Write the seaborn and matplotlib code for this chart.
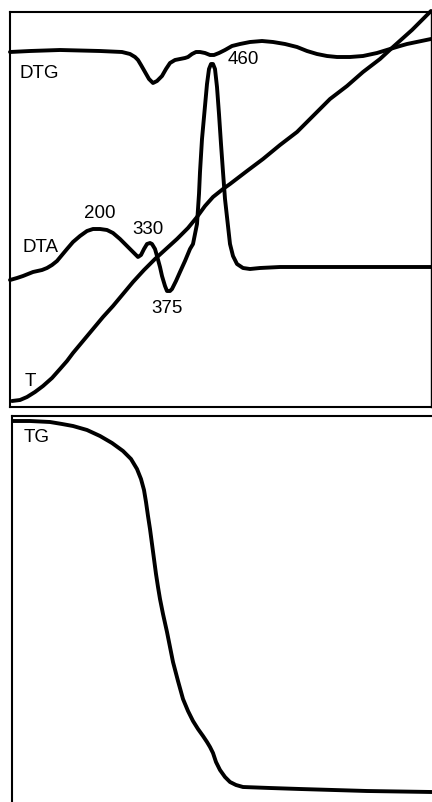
import seaborn as sns
import matplotlib.pyplot as plt

# curves, in pixel units of the original figure (y grows downward)
dtg_x = [10, 30, 60, 100, 122, 130, 135, 138, 141, 145, 149, 153, 157, 162, 166, 170, 175,
         180, 185, 188, 192, 196, 200, 205, 210, 214, 219, 225, 232, 240, 250, 262, 273,
         285, 297, 307, 317, 327, 337, 350, 363, 377, 390, 400, 407, 431]
dtg_y = [53, 52, 51, 52, 53, 55, 58, 61, 66, 73, 80, 84, 82, 77, 70, 64, 61,
         60, 59, 58, 55, 53, 53, 54, 56, 56, 54, 51, 47, 45, 43, 42, 43,
         45, 48, 52, 55, 57, 58, 58, 57, 54, 50, 47, 45, 40]

dta_x = [10, 17, 23, 33, 42, 47, 52, 57, 62, 67, 73, 80, 87, 93, 100, 107, 113, 120, 127,
         133, 138, 141, 144, 147, 150, 152, 155, 157, 160, 162, 165, 167, 170, 172, 176,
         180, 185, 190, 193, 197, 199, 200, 202, 205, 207, 209, 211, 213, 215, 217, 219,
         221, 223, 225, 228, 230, 233, 237, 243, 250, 260, 280, 431]
dta_y = [281, 279, 277, 273, 271, 269, 266, 262, 256, 250, 243, 237, 232, 230, 230, 231, 234,
         240, 247, 253, 258, 256, 250, 245, 244, 245, 250, 257, 268, 277, 287, 292, 292, 290,
         282, 273, 262, 250, 245, 225, 195, 173, 140, 107, 85, 70, 65, 65, 70, 88, 115,
         145, 173, 200, 227, 245, 257, 265, 269, 270, 269, 268, 268]

t_x = [12, 20, 27, 35, 43, 52, 60, 67, 73, 83, 93, 103, 113, 123, 133, 144, 155, 166, 177,
       188, 197, 205, 213, 223, 230, 247, 263, 280, 297, 313, 330, 347, 363, 380, 393, 412, 431]
t_y = [402, 401, 398, 393, 387, 379, 370, 362, 354, 342, 330, 318, 307, 295, 283, 271, 260,
       250, 240, 229, 218, 207, 198, 190, 185, 172, 160, 146, 133, 117, 100, 87, 73, 60, 48,
       31, 12]

tg_x = [12, 30, 50, 62, 73, 87, 100, 112, 123, 131, 137, 141, 144, 146, 148, 150, 152, 154,
        156, 158, 160, 163, 167, 170, 173, 178, 183, 188, 193, 198, 203, 207, 210, 213, 216,
        220, 225, 230, 236, 243, 270, 300, 367, 432]
tg_y = [422, 422, 423, 425, 427, 431, 437, 444, 452, 460, 470, 480, 491, 503, 517, 530, 545,
        560, 575, 588, 600, 615, 633, 648, 663, 682, 700, 712, 722, 730, 737, 743, 748, 754,
        763, 771, 778, 783, 786, 788, 789, 790, 792, 793]

peak_labels = ["DTG", "DTA", "T", "200", "330", "375", "460"]
peak_x = [39, 40, 30, 100, 148, 167, 243]
peak_y = [73, 248, 382, 214, 230, 309, 60]

sns.set_style("white")
plt.rcParams["font.family"] = ["Liberation Sans", "DejaVu Sans"]

W, H = 432, 803
fig = plt.figure(figsize=(W / 100, H / 100), dpi=100)

ax1 = fig.add_axes([10 / W, (H - 408) / H, (431 - 10) / W, (408 - 13) / H])
ax2 = fig.add_axes([12 / W, -10 / H, (440 - 12) / W, (813 - 417) / H])

lw = 2.8
for xs, ys in [(dtg_x, dtg_y), (dta_x, dta_y), (t_x, t_y)]:
    sns.lineplot(x=xs, y=ys, ax=ax1, color="black", lw=lw, sort=False,
                 estimator=None, clip_on=False)
sns.lineplot(x=tg_x, y=tg_y, ax=ax2, color="black", lw=lw, sort=False, estimator=None)

ax1.set_xlim(10, 431)
ax1.set_ylim(408, 13)
ax2.set_xlim(12, 440)
ax2.set_ylim(813, 417)

for lab, x, y in zip(peak_labels, peak_x, peak_y):
    ax1.text(x, y, lab, fontsize=13.5, ha="center", va="center", color="black")
ax2.text(37, 438, "TG", fontsize=13.5, ha="center", va="center", color="black")

for ax in (ax1, ax2):
    ax.set_xticks([])
    ax.set_yticks([])
    ax.set_xlabel("")
    ax.set_ylabel("")
    for s in ax.spines.values():
        s.set_color("black")
        s.set_linewidth(1.5)
ax1.spines["right"].set_linewidth(1.0)
ax2.spines["right"].set_visible(False)
ax2.spines["bottom"].set_visible(False)

fig.savefig("out.png", dpi=100, facecolor="white")
plt.close(fig)
